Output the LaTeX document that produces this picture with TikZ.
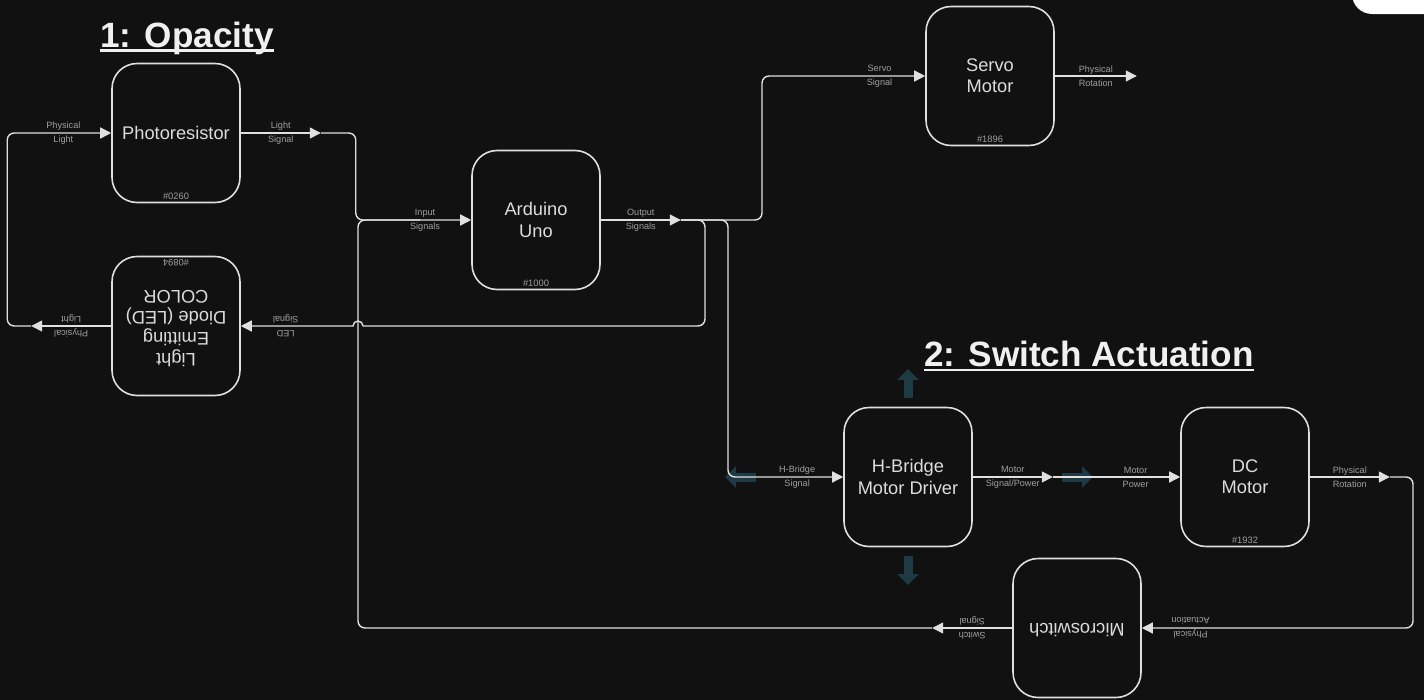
\documentclass[tikz,border=0pt]{standalone}
\usepackage{fontspec}
\setmainfont{Liberation Sans}
\usepackage{graphicx}
\usetikzlibrary{arrows.meta, positioning, calc}

\definecolor{bgdark}{HTML}{111111}
\definecolor{linegray}{HTML}{E0E0E0}
\definecolor{boxtext}{HTML}{DCDCDC}
\definecolor{lbltext}{HTML}{A0A0A0}
\definecolor{hover}{RGB}{30,58,68}

\newcommand{\flipped}[1]{\rotatebox{180}{\begin{tabular}{@{}c@{}}#1\end{tabular}}}

\begin{document}
\begin{tikzpicture}[
    x=0.02cm, y=-0.02cm,
    block/.style={rectangle, draw=linegray, line width=0.9pt, fill=bgdark, rounded corners=0.5cm, minimum width=2.56cm, minimum height=2.78cm, text=boxtext, font=\fontsize{10.4}{12}\selectfont, align=center},
    idtag/.style={font=\fontsize{5.3}{6}\selectfont, text=lbltext, inner sep=0pt},
    elabel/.style={font=\fontsize{5.2}{8}\selectfont, text=lbltext, align=center, inner sep=0pt},
    title/.style={font=\bfseries\fontsize{20}{24}\selectfont, text=white!94!black, inner sep=0pt, anchor=base},
    conn/.style={draw=linegray, line width=0.8pt, rounded corners=4pt},
    arrow/.style={conn, -{Triangle[length=0.22cm, width=0.22cm]}},
    hoverarrow/.style={draw=hover, line width=0.18cm, -{Triangle[length=0.22cm, width=0.42cm]}}
]
    % Background and page frame
    \fill[bgdark] (0,0) rectangle (1424,700);
    \useasboundingbox (0,0) rectangle (1424,700);
    \begin{scope}
        \clip (0,0) rectangle (1424,700);
        \fill[white, rounded corners=0.4cm] (1352,-30) rectangle (1460,14);
    \end{scope}

    % Section titles
    \node[title] (title1) at (187,47) {1: Opacity};
    \draw[white!94!black, line width=1.7pt] ([yshift=-0.07cm]title1.base west) -- ([yshift=-0.07cm]title1.base east);
    \node[title] (title2) at (1089,366) {2: Switch Actuation};
    \draw[white!94!black, line width=1.7pt] ([yshift=-0.08cm]title2.base west) -- ([yshift=-0.08cm]title2.base east);

    % Hover handles around the driver
    \draw[hoverarrow] (908,398) -- (908,369);
    \draw[hoverarrow] (908,556) -- (908,585);
    \draw[hoverarrow] (756,477) -- (725,477);
    \draw[hoverarrow] (1062,477) -- (1093,477);

    % Blocks
    \node[block] (photo) at (176,133) {Photoresistor};
    \node[block] (led) at (176,326) {\flipped{Light\\Emitting\\Diode (LED)\\COLOR}};
    \node[block] (uno) at (536,220) {Arduino\\Uno};
    \node[block] (servo) at (990,76) {Servo\\Motor};
    \node[block] (hbridge) at (908,477) {H-Bridge\\Motor Driver};
    \node[block] (dcmotor) at (1245,477) {DC\\Motor};
    \node[block] (switch) at (1077,628) {\flipped{Microswitch}};

    % Part numbers
    \node[idtag] at ([yshift=0.14cm]photo.south) {\#0260};
    \node[idtag, rotate=180] at ([yshift=-0.14cm]led.north) {\#0894};
    \node[idtag] at ([yshift=0.14cm]uno.south) {\#1000};
    \node[idtag] at ([yshift=0.14cm]servo.south) {\#1896};
    \node[idtag] at ([yshift=0.14cm]dcmotor.south) {\#1932};

    % Opacity loop
    \draw[arrow] (led.west) -- node[elabel, rotate=180] {Physical\\Light} ++(-80,0) coordinate (plight);
    \draw[arrow] (plight) -- ++(-24,0) |- node[pos=0.77, elabel] {Physical\\Light} (photo.west);
    \draw[arrow] (photo.east) -- node[elabel] {Light\\Signal} ++(80,0) coordinate (lsig);
    \draw[arrow] (lsig) -- ++(35,0) |- node[pos=0.8, elabel] {Input\\Signals} (uno.west);
    \draw[arrow] (uno.east) -- node[elabel] {Output\\Signals} ++(80,0) coordinate (outsig);

    % Output branches
    \draw[arrow] (outsig) -- (762,220) |- node[pos=0.86, elabel] {Servo\\Signal} (servo.west);
    \draw[conn] (outsig) -- (705,220) -- (705,326) -- (363,326) coordinate (hop);
    \draw[arrow, sharp corners] (hop) arc[start angle=0, end angle=180, radius=0.1cm]
        -- node[pos=0.6, elabel, rotate=180] {LED\\Signal} (led.east);
    \draw[arrow] (outsig) -- (728,220) |- node[pos=0.8, elabel] {H-Bridge\\Signal} (hbridge.west);
    \draw[arrow] (servo.east) -- node[elabel] {Physical\\Rotation} ++(82,0);

    % Switch actuation chain
    \draw[arrow] (hbridge.east) -- node[elabel] {Motor\\Signal/Power} ++(80,0) coordinate (mpow);
    \draw[arrow] (mpow) -- node[pos=0.65, elabel] {Motor\\Power} (dcmotor.west);
    \draw[arrow] (dcmotor.east) -- node[elabel] {Physical\\Rotation} ++(80,0) coordinate (prot);
    \draw[arrow] (prot) -- (1413,477) |- node[pos=0.91, elabel, rotate=180] {Physical\\Actuation} (switch.east);
    \draw[arrow] (switch.west) -- node[elabel, rotate=180] {Switch\\Signal} ++(-80,0) coordinate (ssig);
    \draw[conn] (ssig) -- (358,628) -- (358,220) -- (420,220);

\end{tikzpicture}
\end{document}
